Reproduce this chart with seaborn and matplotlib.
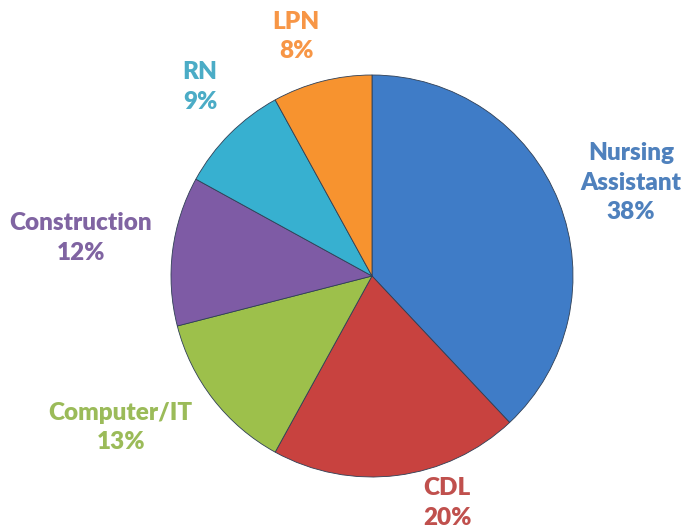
import matplotlib
matplotlib.use("Agg")
import matplotlib.pyplot as plt
import seaborn as sns
import numpy as np

sns.set_theme(style="white")
plt.rcParams['font.family'] = ['Lato', 'DejaVu Sans']

categories = ["Nursing\nAssistant", "CDL", "Computer/IT", "Construction", "RN", "LPN"]
values = [38, 20, 13, 12, 9, 8]
slice_colors = ["#3F7CC7", "#C8423F", "#9DC04B", "#7E5BA5", "#37B0D0", "#F7932F"]
text_colors = ["#4F81BD", "#C0504D", "#9BBB59", "#8064A2", "#4BACC6", "#F79646"]

# label placement (angle in degrees, distance in radii) - layout only
label_angles = [19.8, -71.7, -148.9, 172.6, 132.3, 107.6]
label_dists = [1.37, 1.19, 1.46, 1.46, 1.27, 1.25]

fig = plt.figure(figsize=(6.81, 5.31), dpi=100)
ax = fig.add_axes([171/681, 54/531, 402/681, 402/531])

wedges, _ = ax.pie(values, colors=slice_colors, startangle=90, counterclock=False,
                   radius=1.0, wedgeprops=dict(edgecolor="#2f3f55", linewidth=0.6))

for lab, v, c, a, d in zip(categories, values, text_colors, label_angles, label_dists):
    th = np.deg2rad(a)
    ax.text(d*np.cos(th), d*np.sin(th), f"{lab}\n{v}%", ha="center", va="center",
            color=c, fontsize=17.5, fontweight="heavy", linespacing=1.42)

ax.set_xlim(-1, 1)
ax.set_ylim(-1, 1)
ax.set_aspect("equal")
ax.axis("off")
fig.savefig("out.png", dpi=100)
